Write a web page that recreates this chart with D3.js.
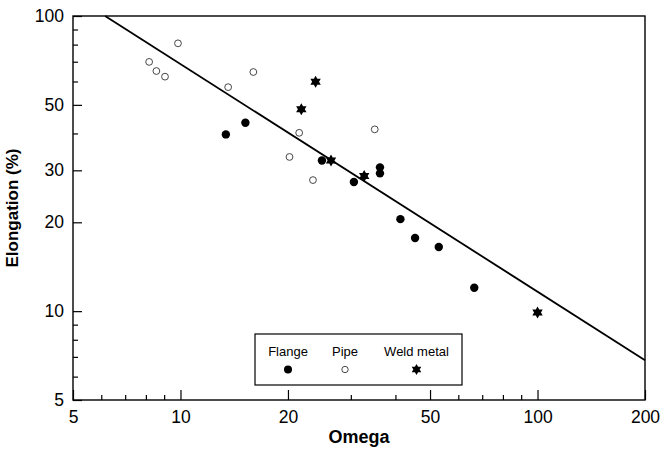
<!DOCTYPE html>
<html>
<head>
<meta charset="utf-8">
<script src="https://cdn.jsdelivr.net/npm/d3@7"></script>
<style>
  body { margin: 0; background: #fff; }
  svg { display: block; font-family: "Liberation Sans", Arial, sans-serif; }
</style>
</head>
<body>
<svg id="chart" width="660" height="454"></svg>
<script>
// ---- data ----
const flangeX = [13.4, 15.2, 24.9, 30.6, 36.2, 36.2, 41.3, 45.4, 52.9, 66.5];
const flangeY = [39.7, 43.5, 32.4, 27.4, 30.7, 29.3, 20.5, 17.7, 16.5, 12.0];
const pipeX = [8.17, 8.56, 9.05, 9.84, 13.6, 16.0, 20.2, 21.5, 23.5, 35.0];
const pipeY = [69.9, 65.1, 62.3, 80.8, 57.4, 64.6, 33.3, 40.2, 27.8, 41.3];
const weldX = [21.8, 23.9, 26.4, 32.7, 100];
const weldY = [48.3, 59.9, 32.4, 28.7, 9.9];
const fitX = [6.15, 200];
const fitY = [100, 6.82];
const xMajorTicks = [5, 10, 20, 50, 100, 200];
const xMinorTicks = [6, 7, 8, 9, 30, 40, 60, 70, 80, 90];
const yMajorTicks = [5, 10, 20, 30, 50, 100];
const yMinorTicks = [6, 7, 8, 9, 40, 60, 70, 80, 90];
const legendLabels = ["Flange", "Pipe", "Weld metal"];

// ---- layout ----
const L = 73, R = 645, T = 16, B = 400;
const svg = d3.select("#chart");
const x = d3.scaleLog().domain([5, 200]).range([L, R]);
const y = d3.scaleLog().domain([5, 100]).range([B, T]);

// axes
const fmt = d3.format("d");
const gxMaj = svg.append("g").attr("transform", `translate(0,${B})`)
  .call(d3.axisBottom(x).tickValues(xMajorTicks).tickFormat(fmt).tickSize(-10).tickPadding(11));
const gxMin = svg.append("g").attr("transform", `translate(0,${B})`)
  .call(d3.axisBottom(x).tickValues(xMinorTicks).tickFormat("").tickSize(-5));
const gyMaj = svg.append("g").attr("transform", `translate(${L},0)`)
  .call(d3.axisLeft(y).tickValues(yMajorTicks).tickFormat(fmt).tickSize(-9).tickPadding(9));
const gyMin = svg.append("g").attr("transform", `translate(${L},0)`)
  .call(d3.axisLeft(y).tickValues(yMinorTicks).tickFormat("").tickSize(-5));
[gxMaj, gxMin, gyMaj, gyMin].forEach(g => {
  g.select(".domain").remove();
  g.selectAll("line").attr("stroke", "#000").attr("stroke-width", 1.2);
  g.selectAll("text").attr("fill", "#000").style("font-size", "17.5px")
   .style("font-family", "'Liberation Sans', Arial, sans-serif");
});

// frame
svg.append("rect").attr("x", L).attr("y", T).attr("width", R - L).attr("height", B - T)
  .attr("fill", "none").attr("stroke", "#000").attr("stroke-width", 1.4);

// fit line
svg.append("path")
  .datum(fitX.map((v, i) => [v, fitY[i]]))
  .attr("d", d3.line().x(d => x(d[0])).y(d => y(d[1])))
  .attr("fill", "none").attr("stroke", "#000").attr("stroke-width", 1.8);

// hexagram as a 12-point polygon
function hexagram(r) {
  const ri = r / Math.sqrt(3);
  const pts = [];
  for (let k = 0; k < 12; k++) {
    const a = -Math.PI / 2 + k * Math.PI / 6;
    const rr = k % 2 === 0 ? r : ri;
    pts.push([rr * Math.cos(a), rr * Math.sin(a)]);
  }
  return "M" + pts.map(p => p[0].toFixed(2) + "," + p[1].toFixed(2)).join("L") + "Z";
}

// points
svg.append("g").selectAll("circle")
  .data(pipeX.map((v, i) => [v, pipeY[i]]))
  .join("circle")
  .attr("cx", d => x(d[0])).attr("cy", d => y(d[1])).attr("r", 3.4)
  .attr("fill", "#fff").attr("stroke", "#333").attr("stroke-width", 0.9);
svg.append("g").selectAll("circle")
  .data(flangeX.map((v, i) => [v, flangeY[i]]))
  .join("circle")
  .attr("cx", d => x(d[0])).attr("cy", d => y(d[1])).attr("r", 4.2)
  .attr("fill", "#000");
svg.append("g").selectAll("path")
  .data(weldX.map((v, i) => [v, weldY[i]]))
  .join("path")
  .attr("transform", d => `translate(${x(d[0])},${y(d[1])})`)
  .attr("d", hexagram(6))
  .attr("fill", "#000");

// axis titles
svg.append("text").attr("x", (L + R) / 2).attr("y", 443).attr("text-anchor", "middle")
  .style("font-size", "18px").style("font-weight", "bold").text("Omega");
svg.append("text").attr("transform", `translate(18,${(T + B) / 2}) rotate(-90)`)
  .attr("text-anchor", "middle")
  .style("font-size", "17px").style("font-weight", "bold").text("Elongation (%)");

// legend
const lg = svg.append("g");
lg.append("rect").attr("x", 255).attr("y", 334).attr("width", 207).attr("height", 51)
  .attr("fill", "#fff").attr("stroke", "#000").attr("stroke-width", 1.2);
const legX = [288, 345, 416.5];
legendLabels.forEach((lab, i) => {
  lg.append("text").attr("x", legX[i]).attr("y", 355.5).attr("text-anchor", "middle")
    .style("font-size", "13px").text(lab);
});
lg.append("circle").attr("cx", legX[0]).attr("cy", 369.5).attr("r", 4).attr("fill", "#000");
lg.append("circle").attr("cx", legX[1]).attr("cy", 369.5).attr("r", 3.2)
  .attr("fill", "#fff").attr("stroke", "#333").attr("stroke-width", 0.9);
lg.append("path").attr("transform", `translate(${legX[2]},369.5)`).attr("d", hexagram(5.5)).attr("fill", "#000");
</script>
</body>
</html>
